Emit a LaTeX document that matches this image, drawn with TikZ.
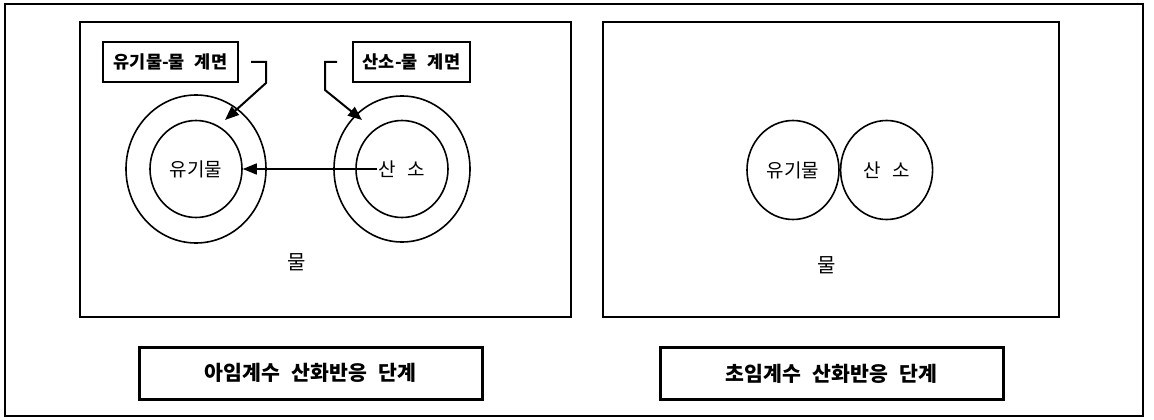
\documentclass[tikz,border=0pt]{standalone}
\usepackage{fontspec}
\setmainfont[WordSpace=2.5]{Noto Sans CJK KR}
\usetikzlibrary{positioning,shapes.geometric,arrows.meta}

\begin{document}
\begin{tikzpicture}[x=1pt,y=-1pt,
  panel/.style={draw,line width=2.5pt,inner sep=0pt},
  ring/.style={draw,ellipse,line width=1.6pt,inner sep=0pt},
  tag/.style={draw,line width=2pt,minimum height=40pt,
    font=\bfseries\fontsize{17.5}{20}\selectfont},
  stage/.style={draw,line width=3pt,minimum width=343pt,minimum height=52pt,
    font=\bfseries\fontsize{20.5}{24}\selectfont},
  lbl/.style={inner sep=1pt,font=\fontsize{19}{22}\selectfont},
  tip/.style={line width=2pt,-{Triangle[length=14pt,width=11pt]}}]
  \useasboundingbox (0,0) rectangle (1154,420);
  \draw[line width=2pt] (5,4) rectangle (1143,416);

  % subcritical stage
  \node[panel,minimum width=491pt,minimum height=295pt] (subpanel) at (325.5,169.5) {};
  \node[ring,minimum width=140pt,minimum height=148pt] (orgout) at (196,169) {};
  \node[ring,minimum width=92pt,minimum height=97pt] (orgin) at (196,169) {};
  \node[lbl] (orgtxt) at (orgin) {유기물};
  \node[ring,minimum width=136pt,minimum height=146pt] (oxout) at (402,169) {};
  \node[ring,minimum width=92pt,minimum height=97pt] (oxin) at (402,169) {};
  \node[lbl] (oxtxt) at (oxin) {산\hspace{12pt}소};
  \draw[tip,line width=1.5pt] (oxtxt.west) -- (orgin.east);

  \node[tag,minimum width=135pt] (orgtag) at (170.5,62) {유기물-물 계면};
  \node[tag,minimum width=117pt] (oxtag) at (411.5,62) {산소-물 계면};
  \coordinate (orgbend) at (266,83);
  \coordinate (orgring) at (225,120);
  \coordinate (oxbend) at (325,90);
  \coordinate (oxring) at (362,120);
  \draw[tip] ([xshift=12pt]orgtag.east) -| (orgbend) -- (orgring);
  \draw[tip] ([xshift=-15pt]oxtag.west) -| (oxbend) -- (oxring);
  \node[lbl,font=\fontsize{20}{22}\selectfont] (water1) at (297,262) {물};
  \node[stage] (subcrit) at (310.5,373) {아임계수 산화반응 단계};

  % supercritical stage
  \node[panel,minimum width=456pt,minimum height=295pt] (suppanel) at (831,169.5) {};
  \node[ring,minimum width=92pt,minimum height=99pt] (orgsmall) at (793,170) {};
  \node[ring,minimum width=92pt,minimum height=99pt] (oxsmall) [right=0pt of orgsmall] {};
  \node[lbl] (orgsmalltxt) at (orgsmall) {유기물};
  \node[lbl] (oxsmalltxt) at (oxsmall) {산\hspace{12pt}소};
  \node[lbl,font=\fontsize{20}{22}\selectfont] (water2) at (827,265) {물};
  \node[stage] (supcrit) at (831.5,373.5) {초임계수 산화반응 단계};
\end{tikzpicture}
\end{document}
